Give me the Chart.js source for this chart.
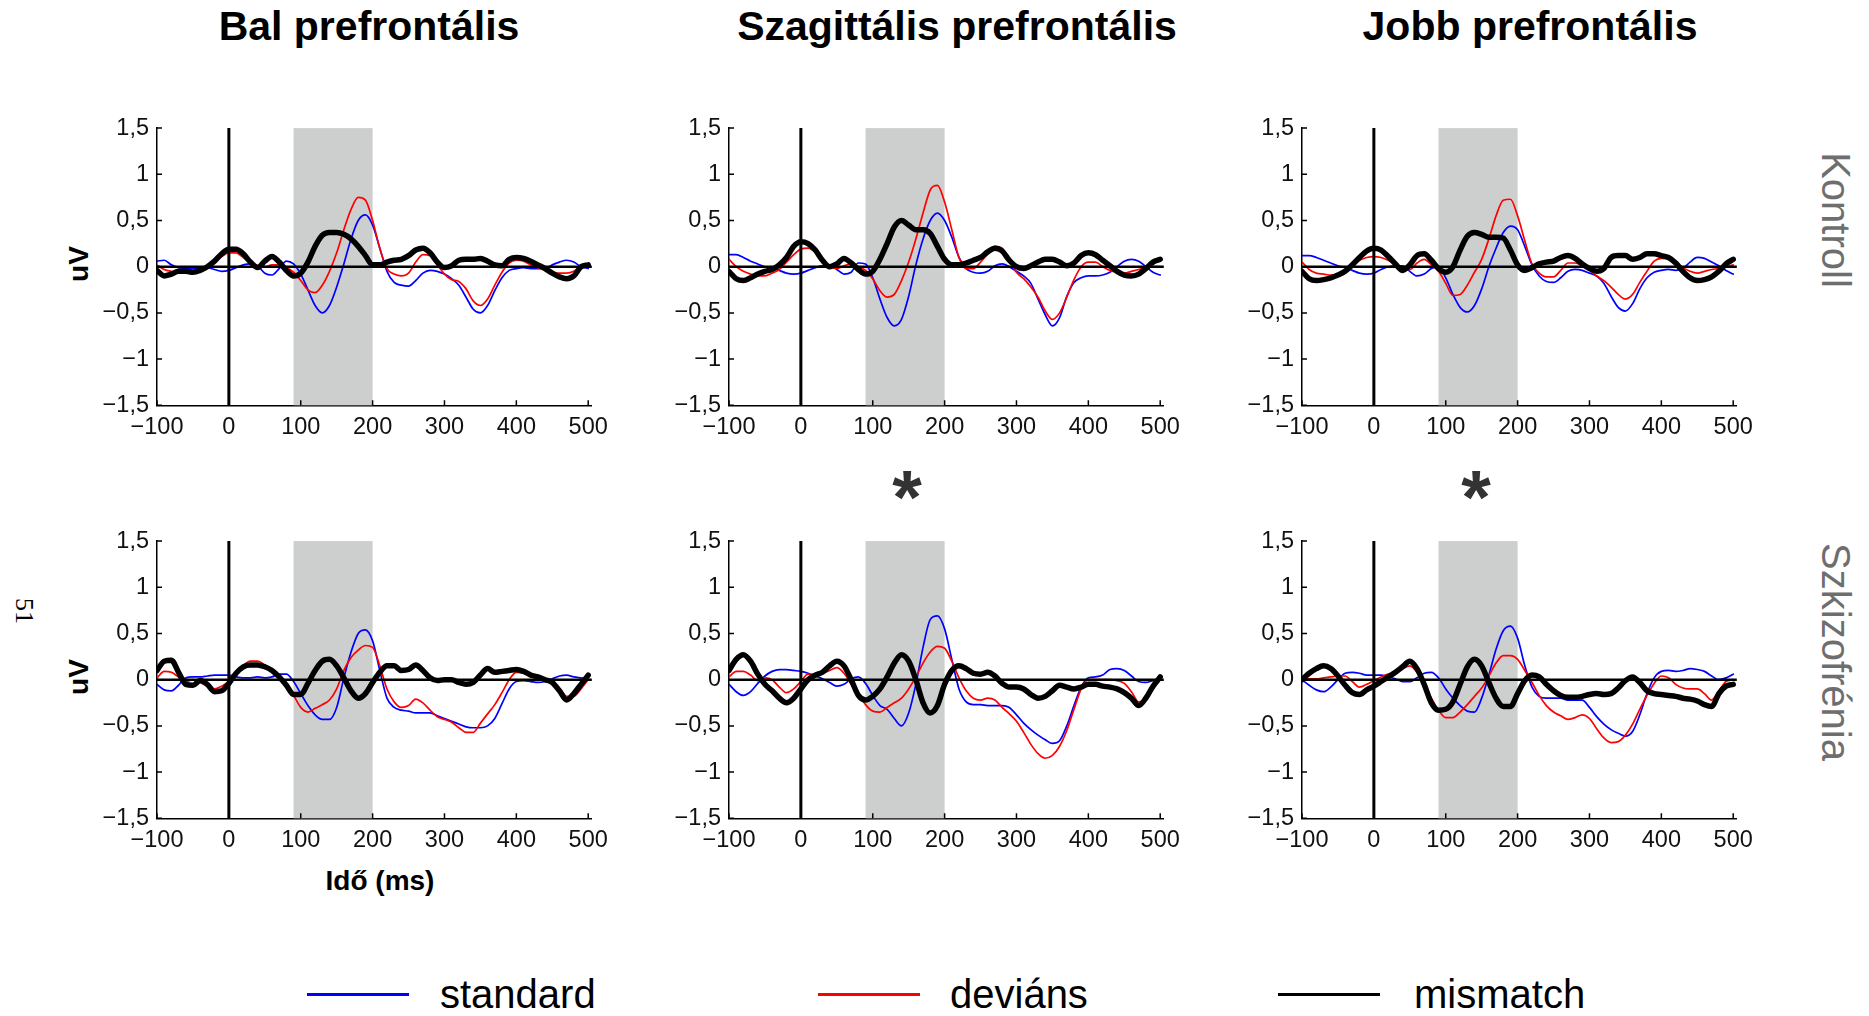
<!DOCTYPE html>
<html>
<head>
<meta charset="utf-8">
<script src="https://cdn.jsdelivr.net/npm/chart.js@4.4.0/dist/chart.umd.min.js"></script>
<style>
  body { margin: 0; width: 1869px; height: 1016px; background: #fff; position: relative; overflow: hidden;
         font-family: "Liberation Sans", Arial, sans-serif; }
  canvas { position: absolute; }
  .txt { position: absolute; white-space: nowrap; line-height: 1; color: #000; }
  .title { font-weight: bold; font-size: 41px; transform: translate(-50%, -50%); }
  .row { font-size: 40px; color: #6e6e6e; transform: translate(-50%, -50%) rotate(90deg); }
  .ylab { font-weight: bold; font-size: 28px; transform: translate(-50%, -50%) rotate(-90deg); }
  .legline { position: absolute; width: 102px; height: 0; border-top: 3px solid; }
  .legtxt { font-size: 40px; transform: translate(0, -50%); }
  .star { font-weight: bold; font-size: 76px; color: #333; transform: translate(-50%, 0); }
</style>
</head>
<body>

<!-- column titles -->
<div class="txt title" style="left:369px; top:26px;">Bal prefrontális</div>
<div class="txt title" style="left:957px; top:26px;">Szagittális prefrontális</div>
<div class="txt title" style="left:1530px; top:26px;">Jobb prefrontális</div>

<!-- row labels -->
<div class="txt row" style="left:1836px; top:220px;">Kontroll</div>
<div class="txt row" style="left:1836px; top:652px;">Szkizofrénia</div>

<!-- y axis labels -->
<div class="txt ylab" style="left:79px; top:264px;">uV</div>
<div class="txt ylab" style="left:79px; top:677px;">uV</div>

<!-- x axis label -->
<div class="txt" style="left:380px; top:881px; font-weight:bold; font-size:28px; transform:translate(-50%,-50%);">Idő (ms)</div>

<!-- significance marks -->
<div class="txt star" style="left:907px; top:459px;">*</div>
<div class="txt star" style="left:1476px; top:459px;">*</div>

<!-- page number -->
<div class="txt" style="left:24px; top:611px; font-family:'Liberation Serif',serif; font-size:26px; transform:translate(-50%,-50%) rotate(90deg);">51</div>

<!-- legend -->
<div class="legline" style="left:307px; top:993px; border-color:#0000ff;"></div>
<div class="txt legtxt" style="left:440px; top:994px;">standard</div>
<div class="legline" style="left:818px; top:993px; border-color:#ff0000;"></div>
<div class="txt legtxt" style="left:950px; top:994px;">deviáns</div>
<div class="legline" style="left:1278px; top:993px; border-color:#000;"></div>
<div class="txt legtxt" style="left:1414px; top:994px;">mismatch</div>

<canvas id="p1"></canvas>
<canvas id="p2"></canvas>
<canvas id="p3"></canvas>
<canvas id="p4"></canvas>
<canvas id="p5"></canvas>
<canvas id="p6"></canvas>

<script>
/* ---------------------------------------------------------------
 *  DATA  (µV, sampled every 10 ms from -100 to 500 ms)
 * --------------------------------------------------------------- */
const timesMs = [-100, -90, -80, -70, -60, -50, -40, -30, -20, -10,
  0, 10, 20, 30, 40, 50, 60, 70, 80, 90,
  100, 110, 120, 130, 140, 150, 160, 170, 180, 190,
  200, 210, 220, 230, 240, 250, 260, 270, 280, 290,
  300, 310, 320, 330, 340, 350, 360, 370, 380, 390,
  400, 410, 420, 430, 440, 450, 460, 470, 480, 490, 500];

const xTicks = [-100, 0, 100, 200, 300, 400, 500];
const yTicks = [-1.5, -1, -0.5, 0, 0.5, 1, 1.5];
const mmnWindow = [90, 200];

// Bal prefrontális - Kontroll
const balKontrollStandard = [0.06, 0.07, 0.02, -0.01, -0.02, -0.02, -0.01, -0.01, -0.03, -0.05,
  -0.04, -0.01, 0.02, 0.03, 0.01, -0.07, -0.09, -0.02, 0.06, 0.03,
  -0.08, -0.25, -0.42, -0.5, -0.42, -0.22, 0.03, 0.3, 0.5, 0.56,
  0.45, 0.2, -0.05, -0.17, -0.2, -0.21, -0.15, -0.07, -0.04, -0.05,
  -0.08, -0.13, -0.2, -0.33, -0.46, -0.5, -0.42, -0.26, -0.12, -0.04,
  -0.02, -0.01, -0.02, -0.02, -0.02, 0.02, 0.05, 0.07, 0.05, 0.0, -0.02];
const balKontrollDevians = [0.02, -0.03, -0.05, -0.06, -0.06, -0.05, -0.03, 0.0, 0.05, 0.11,
  0.15, 0.15, 0.1, 0.04, 0.01, 0.0, 0.02, 0.02, -0.01, -0.06,
  -0.15, -0.25, -0.28, -0.2, -0.05, 0.15, 0.4, 0.62, 0.75, 0.72,
  0.5, 0.2, -0.02, -0.08, -0.1, -0.07, 0.05, 0.13, 0.12, 0.02,
  -0.08, -0.14, -0.16, -0.24, -0.37, -0.42, -0.35, -0.2, -0.06, 0.04,
  0.07, 0.06, 0.02, -0.01, -0.04, -0.06, -0.07, -0.07, -0.05, 0.0, 0.02];
const balKontrollMismatch = [-0.04, -0.1, -0.08, -0.05, -0.05, -0.06, -0.04, 0.0, 0.06, 0.14,
  0.19, 0.19, 0.14, 0.05, -0.01, 0.06, 0.11, 0.05, -0.04, -0.1,
  -0.07, 0.05, 0.22, 0.34, 0.37, 0.37, 0.35, 0.3, 0.22, 0.12,
  0.02, 0.02, 0.05, 0.07, 0.08, 0.12, 0.18, 0.2, 0.15, 0.05,
  -0.01, 0.01, 0.07, 0.08, 0.08, 0.09, 0.06, 0.02, 0.01, 0.08,
  0.1, 0.09, 0.06, 0.02, -0.02, -0.07, -0.11, -0.13, -0.1, 0.0, 0.02];

// Szagittális prefrontális - Kontroll
const szagKontrollStandard = [0.13, 0.13, 0.1, 0.06, 0.03, 0.0, -0.01, -0.04, -0.07, -0.08,
  -0.07, -0.04, -0.01, 0.01, 0.01, -0.03, -0.08, -0.06, 0.04, 0.03,
  -0.12, -0.35, -0.55, -0.64, -0.57, -0.32, 0.02, 0.3, 0.5, 0.58,
  0.5, 0.32, 0.1, -0.02, -0.06, -0.07, -0.05, 0.01, 0.03, 0.0,
  -0.05, -0.1, -0.18, -0.35, -0.52, -0.64, -0.55, -0.32, -0.17, -0.12,
  -0.1, -0.1, -0.09, -0.06, 0.0, 0.06, 0.08, 0.06, 0.0, -0.06, -0.09];
const szagKontrollDevians = [0.08, 0.0, -0.05, -0.08, -0.1, -0.1, -0.07, -0.03, 0.05, 0.13,
  0.19, 0.2, 0.16, 0.08, 0.01, -0.02, 0.01, 0.03, 0.0, -0.04,
  -0.13, -0.26, -0.33, -0.3, -0.15, 0.05, 0.3, 0.58, 0.83, 0.88,
  0.7, 0.4, 0.1, -0.02, -0.02, 0.05, 0.14, 0.22, 0.2, 0.08,
  -0.06, -0.13, -0.22, -0.33, -0.48, -0.57, -0.5, -0.33, -0.14, 0.0,
  0.05, 0.05, 0.0, -0.04, -0.06, -0.07, -0.05, -0.03, -0.01, 0.0, 0.0];
const szagKontrollMismatch = [-0.05, -0.13, -0.15, -0.12, -0.08, -0.05, -0.03, 0.02, 0.1, 0.22,
  0.27, 0.25, 0.18, 0.07, 0.0, 0.03, 0.09, 0.04, -0.03, -0.08,
  -0.05, 0.08, 0.25, 0.43, 0.5, 0.45, 0.4, 0.4, 0.36, 0.22,
  0.08, 0.02, 0.02, 0.04, 0.07, 0.1, 0.16, 0.2, 0.17, 0.07,
  0.0, -0.02, 0.01, 0.05, 0.08, 0.08, 0.05, 0.01, 0.04, 0.12,
  0.15, 0.13, 0.07, 0.01, -0.05, -0.09, -0.1, -0.08, -0.02, 0.05, 0.08];

// Jobb prefrontális - Kontroll
const jobbKontrollStandard = [0.12, 0.12, 0.1, 0.07, 0.04, 0.01, -0.01, -0.04, -0.07, -0.08,
  -0.07, -0.03, 0.0, 0.01, 0.01, -0.05, -0.1, -0.08, -0.02, 0.0,
  -0.12, -0.3, -0.44, -0.49, -0.42, -0.24, 0.0, 0.2, 0.37, 0.44,
  0.4, 0.22, 0.02, -0.1, -0.16, -0.17, -0.12, -0.05, -0.03, -0.04,
  -0.07, -0.1, -0.18, -0.32, -0.44, -0.48, -0.4, -0.24, -0.12, -0.06,
  -0.04, -0.03, -0.04, -0.02, 0.05, 0.1, 0.09, 0.05, 0.01, -0.04, -0.08];
const jobbKontrollDevians = [0.05, -0.03, -0.07, -0.08, -0.09, -0.08, -0.04, 0.02, 0.07, 0.1,
  0.11, 0.1, 0.07, 0.02, -0.03, -0.03, 0.04, 0.08, 0.02, -0.05,
  -0.18, -0.31, -0.3, -0.2, -0.06, 0.08, 0.3, 0.55, 0.72, 0.73,
  0.55, 0.28, 0.03, -0.07, -0.11, -0.11, -0.04, 0.04, 0.04, 0.01,
  -0.04, -0.1, -0.15, -0.22, -0.3, -0.35, -0.3, -0.17, -0.05, 0.06,
  0.09, 0.08, 0.04, -0.01, -0.05, -0.07, -0.05, -0.03, -0.02, 0.0, 0.02];
const jobbKontrollMismatch = [-0.05, -0.13, -0.15, -0.14, -0.12, -0.09, -0.05, 0.02, 0.1, 0.17,
  0.2, 0.18, 0.11, 0.03, -0.04, 0.02, 0.12, 0.14, 0.07, -0.02,
  -0.06, 0.0, 0.18, 0.33, 0.37, 0.35, 0.32, 0.32, 0.31, 0.18,
  0.02, -0.04, -0.01, 0.03, 0.05, 0.06, 0.1, 0.12, 0.09, 0.03,
  -0.02, -0.05, -0.02, 0.1, 0.12, 0.12, 0.08, 0.1, 0.14, 0.14,
  0.12, 0.1, 0.04, -0.05, -0.12, -0.15, -0.14, -0.11, -0.05, 0.03, 0.08];

// Bal prefrontális - Szkizofrénia
const balSzkizStandard = [-0.05, -0.11, -0.12, -0.06, 0.02, 0.03, 0.03, 0.04, 0.05, 0.05,
  0.05, 0.03, 0.02, 0.02, 0.03, 0.02, 0.03, 0.06, 0.06, -0.02,
  -0.15, -0.28, -0.38, -0.43, -0.43, -0.3, 0.02, 0.3, 0.5, 0.54,
  0.42, 0.1, -0.2, -0.3, -0.33, -0.34, -0.36, -0.36, -0.36, -0.39,
  -0.42, -0.45, -0.48, -0.51, -0.52, -0.52, -0.5, -0.42, -0.26, -0.1,
  -0.02, -0.01, -0.02, -0.03, -0.02, 0.01, 0.04, 0.05, 0.03, 0.02, 0.01];
const balSzkizDevians = [0.02, 0.09, 0.08, 0.03, -0.02, 0.0, -0.03, -0.07, -0.1, -0.07,
  -0.02, 0.05, 0.15, 0.2, 0.2, 0.16, 0.1, 0.02, -0.07, -0.17,
  -0.3, -0.35, -0.31, -0.27, -0.22, -0.1, 0.1, 0.24, 0.32, 0.37,
  0.35, 0.15, -0.1, -0.24, -0.3, -0.28, -0.21, -0.25, -0.33, -0.4,
  -0.43, -0.46, -0.52, -0.57, -0.57, -0.47, -0.37, -0.27, -0.14, 0.0,
  0.08, 0.07, 0.04, 0.02, 0.0, -0.03, -0.09, -0.18, -0.18, -0.1, 0.0];
const balSzkizMismatch = [0.1, 0.2, 0.21, 0.08, -0.05, -0.06, -0.01, -0.05, -0.13, -0.12,
  -0.04, 0.07, 0.14, 0.16, 0.16, 0.14, 0.1, 0.03, -0.06, -0.16,
  -0.16, -0.04, 0.1, 0.2, 0.22, 0.15, 0.02, -0.12, -0.2, -0.15,
  -0.03, 0.08, 0.15, 0.15, 0.1, 0.11, 0.16, 0.1, 0.02, -0.01,
  0.0, 0.0, -0.03, -0.05, -0.03, 0.05, 0.12, 0.08, 0.09, 0.1,
  0.11, 0.09, 0.05, 0.03, 0.0, -0.03, -0.12, -0.22, -0.15, -0.05, 0.05];

// Szagittális prefrontális - Szkizofrénia
const szagSzkizStandard = [-0.05, -0.13, -0.17, -0.13, -0.04, 0.04, 0.09, 0.11, 0.11, 0.1,
  0.09, 0.07, 0.04, 0.01, -0.03, -0.07, -0.05, 0.01, 0.03, -0.04,
  -0.17, -0.28, -0.32, -0.42, -0.5, -0.36, -0.05, 0.35, 0.65, 0.69,
  0.55, 0.22, -0.1, -0.24, -0.27, -0.27, -0.28, -0.28, -0.28, -0.3,
  -0.38, -0.47, -0.54, -0.6, -0.65, -0.69, -0.66, -0.5, -0.28, -0.08,
  0.02, 0.03, 0.05, 0.11, 0.12, 0.1, 0.04, -0.02, -0.03, -0.01, 0.0];
const szagSzkizDevians = [0.03, 0.09, 0.09, 0.05, -0.01, 0.02, 0.0, -0.08, -0.14, -0.1,
  -0.02, 0.06, 0.05, 0.07, 0.1, 0.13, 0.07, -0.05, -0.15, -0.27,
  -0.34, -0.35, -0.3, -0.25, -0.2, -0.1, 0.03, 0.18, 0.3, 0.36,
  0.34, 0.2, 0.02, -0.12, -0.2, -0.22, -0.2, -0.22, -0.3, -0.37,
  -0.45, -0.57, -0.7, -0.8, -0.85, -0.82, -0.72, -0.55, -0.32, -0.1,
  0.0, 0.0, 0.0, 0.0, -0.01, -0.04, -0.13, -0.24, -0.22, -0.1, 0.0];
const szagSzkizMismatch = [0.1, 0.22, 0.27, 0.2, 0.06, -0.05, -0.12, -0.2, -0.25, -0.2,
  -0.1, 0.0, 0.05, 0.08, 0.15, 0.2, 0.15, 0.0, -0.17, -0.22,
  -0.18, -0.1, 0.03, 0.18, 0.27, 0.2, 0.0, -0.25, -0.36, -0.28,
  -0.05, 0.1, 0.15, 0.12, 0.07, 0.06, 0.08, 0.04, -0.04, -0.08,
  -0.08, -0.1, -0.16, -0.2, -0.18, -0.12, -0.06, -0.08, -0.1, -0.08,
  -0.05, -0.05, -0.07, -0.08, -0.1, -0.14, -0.2, -0.28, -0.2, -0.07, 0.03];

// Jobb prefrontális - Szkizofrénia
const jobbSzkizStandard = [0.0, -0.06, -0.11, -0.13, -0.08, 0.0, 0.07, 0.08, 0.07, 0.05,
  0.05, 0.05, 0.03, 0.01, -0.02, -0.02, 0.02, 0.07, 0.08, 0.02,
  -0.1, -0.2, -0.28, -0.34, -0.35, -0.2, 0.05, 0.33, 0.53, 0.58,
  0.45, 0.15, -0.08, -0.18, -0.2, -0.2, -0.2, -0.22, -0.22, -0.22,
  -0.3, -0.4, -0.48, -0.54, -0.58, -0.61, -0.56, -0.38, -0.15, 0.02,
  0.09, 0.1, 0.09, 0.1, 0.12, 0.11, 0.09, 0.04, 0.0, 0.02, 0.06];
const jobbSzkizDevians = [0.0, 0.01, 0.01, 0.02, 0.03, 0.04, 0.04, -0.02, -0.08, -0.05,
  -0.01, 0.03, 0.06, 0.08, 0.12, 0.15, 0.08, -0.06, -0.2, -0.33,
  -0.41, -0.41, -0.35, -0.27, -0.18, -0.09, 0.04, 0.18, 0.26, 0.26,
  0.22, 0.1, -0.03, -0.17, -0.28, -0.35, -0.39, -0.43, -0.41, -0.38,
  -0.42, -0.53, -0.63, -0.68, -0.67, -0.6, -0.48, -0.32, -0.17, -0.04,
  0.04, 0.02, -0.05, -0.09, -0.1, -0.1, -0.15, -0.22, -0.12, -0.02, 0.0];
const jobbSzkizMismatch = [0.0, 0.07, 0.12, 0.15, 0.12, 0.04, -0.06, -0.14, -0.16, -0.11,
  -0.07, -0.02, 0.03, 0.08, 0.14, 0.2, 0.12, -0.05, -0.25, -0.33,
  -0.32, -0.24, -0.05, 0.14, 0.22, 0.15, -0.03, -0.2, -0.29, -0.29,
  -0.15, -0.01, 0.05, 0.03, -0.05, -0.12, -0.17, -0.19, -0.19, -0.18,
  -0.16, -0.15, -0.16, -0.15, -0.09, -0.01, 0.03, -0.03, -0.12, -0.15,
  -0.16, -0.17, -0.18, -0.2, -0.21, -0.23, -0.27, -0.29, -0.15, -0.07, -0.05];

/* ---------------------------------------------------------------
 *  LAYOUT  (plot-area top-left corner of each panel, page px)
 * --------------------------------------------------------------- */
const PLOT_W = 435;
const PLOT_H = 278;
const PAD_L = 70, PAD_T = 20, PAD_R = 22, PAD_B = 45;

const panels = [
  { id: "p1", left: 157,  top: 128, std: balKontrollStandard,  dev: balKontrollDevians,  mm: balKontrollMismatch },
  { id: "p2", left: 729,  top: 128, std: szagKontrollStandard, dev: szagKontrollDevians, mm: szagKontrollMismatch },
  { id: "p3", left: 1302, top: 128, std: jobbKontrollStandard, dev: jobbKontrollDevians, mm: jobbKontrollMismatch },
  { id: "p4", left: 157,  top: 541, std: balSzkizStandard,     dev: balSzkizDevians,     mm: balSzkizMismatch },
  { id: "p5", left: 729,  top: 541, std: szagSzkizStandard,    dev: szagSzkizDevians,    mm: szagSzkizMismatch },
  { id: "p6", left: 1302, top: 541, std: jobbSzkizStandard,    dev: jobbSzkizDevians,    mm: jobbSzkizMismatch },
];

/* ---------------------------------------------------------------
 *  HELPERS
 * --------------------------------------------------------------- */
function commaLabel(v) {
  const s = String(Math.abs(v)).replace(".", ",");
  return (v < 0 ? "\u2212" : "") + s;
}

function toPoints(values) {
  return timesMs.map((t, i) => ({ x: t, y: values[i] }));
}

// gray MMN window, the stimulus-onset line, zero line and inward tick marks
const erpDecor = {
  id: "erpDecor",
  beforeDatasetsDraw(chart) {
    const { ctx, chartArea, scales } = chart;
    const x1 = scales.x.getPixelForValue(mmnWindow[0]);
    const x2 = scales.x.getPixelForValue(mmnWindow[1]);
    ctx.save();
    ctx.fillStyle = "#cdcfcf";
    ctx.fillRect(x1, chartArea.top, x2 - x1, chartArea.bottom - chartArea.top);
    ctx.restore();
  },
  afterDatasetDraw(chart, args) {
    // draw after the red trace, under the thick mismatch trace
    if (args.index !== 1) return;
    const { ctx, chartArea, scales } = chart;
    const x0 = scales.x.getPixelForValue(0);
    const y0 = scales.y.getPixelForValue(0);
    ctx.save();
    ctx.strokeStyle = "#000";
    ctx.lineWidth = 3;
    ctx.beginPath();
    ctx.moveTo(x0, scales.y.getPixelForValue(1.5));
    ctx.lineTo(x0, scales.y.getPixelForValue(-1.5));
    ctx.stroke();
    ctx.lineWidth = 2.6;
    ctx.beginPath();
    ctx.moveTo(chartArea.left, y0);
    ctx.lineTo(chartArea.right, y0);
    ctx.stroke();
    ctx.restore();
  },
  afterDraw(chart) {
    const { ctx, chartArea, scales } = chart;
    ctx.save();
    ctx.strokeStyle = "#000";
    ctx.lineWidth = 1.5;
    ctx.beginPath();
    xTicks.forEach((v) => {
      const px = scales.x.getPixelForValue(v);
      ctx.moveTo(px, chartArea.bottom);
      ctx.lineTo(px, chartArea.bottom - 5);
    });
    yTicks.forEach((v) => {
      const py = scales.y.getPixelForValue(v);
      ctx.moveTo(chartArea.left, py);
      ctx.lineTo(chartArea.left + 5, py);
    });
    ctx.stroke();
    ctx.restore();
  },
};

const tickFont = { family: "'Liberation Sans', Arial, sans-serif", size: 23.5 };

/* ---------------------------------------------------------------
 *  RENDER
 * --------------------------------------------------------------- */
panels.forEach((p) => {
  const canvas = document.getElementById(p.id);
  canvas.width = PAD_L + PLOT_W + PAD_R;
  canvas.height = PAD_T + PLOT_H + PAD_B;

  const chart = new Chart(canvas, {
    type: "line",
    data: {
      datasets: [
        { label: "mismatch", data: toPoints(p.mm),  borderColor: "#000000", borderWidth: 5.5, order: 0 },
        { label: "deviáns",  data: toPoints(p.dev), borderColor: "#ff0000", borderWidth: 1.7, order: 1 },
        { label: "standard", data: toPoints(p.std), borderColor: "#0000ff", borderWidth: 1.7, order: 2 },
      ],
    },
    options: {
      responsive: false,
      animation: false,
      layout: { padding: { left: 0, top: PAD_T, right: PAD_R, bottom: 0 } },
      elements: {
        point: { radius: 0 },
        line: { cubicInterpolationMode: "monotone", borderCapStyle: "round", borderJoinStyle: "round" },
      },
      plugins: { legend: { display: false }, tooltip: { enabled: false } },
      scales: {
        x: {
          type: "linear",
          min: -100,
          max: 505,
          grid: { display: false, drawTicks: false },
          border: { display: true, color: "#000", width: 1.5 },
          ticks: { font: tickFont, color: "#111", padding: 8, maxRotation: 0, callback: commaLabel },
          afterBuildTicks: (scale) => { scale.ticks = xTicks.map((v) => ({ value: v })); },
          afterFit: (scale) => { scale.height = PAD_B; },
        },
        y: {
          type: "linear",
          min: -1.5,
          max: 1.5,
          grid: { display: false, drawTicks: false },
          border: { display: true, color: "#000", width: 1.5 },
          ticks: { font: tickFont, color: "#111", padding: 8, callback: commaLabel },
          afterBuildTicks: (scale) => { scale.ticks = yTicks.map((v) => ({ value: v })); },
          afterFit: (scale) => { scale.width = PAD_L; },
        },
      },
    },
    plugins: [erpDecor],
  });

  // make the plot area exactly PLOT_W x PLOT_H and pin it to the panel position
  const ca = chart.chartArea;
  const dw = PLOT_W - Math.round(ca.right - ca.left);
  const dh = PLOT_H - Math.round(ca.bottom - ca.top);
  if (dw !== 0 || dh !== 0) chart.resize(canvas.width + dw, canvas.height + dh);
  canvas.style.left = (p.left - Math.round(chart.chartArea.left)) + "px";
  canvas.style.top = (p.top - Math.round(chart.chartArea.top)) + "px";
});
</script>
</body>
</html>
